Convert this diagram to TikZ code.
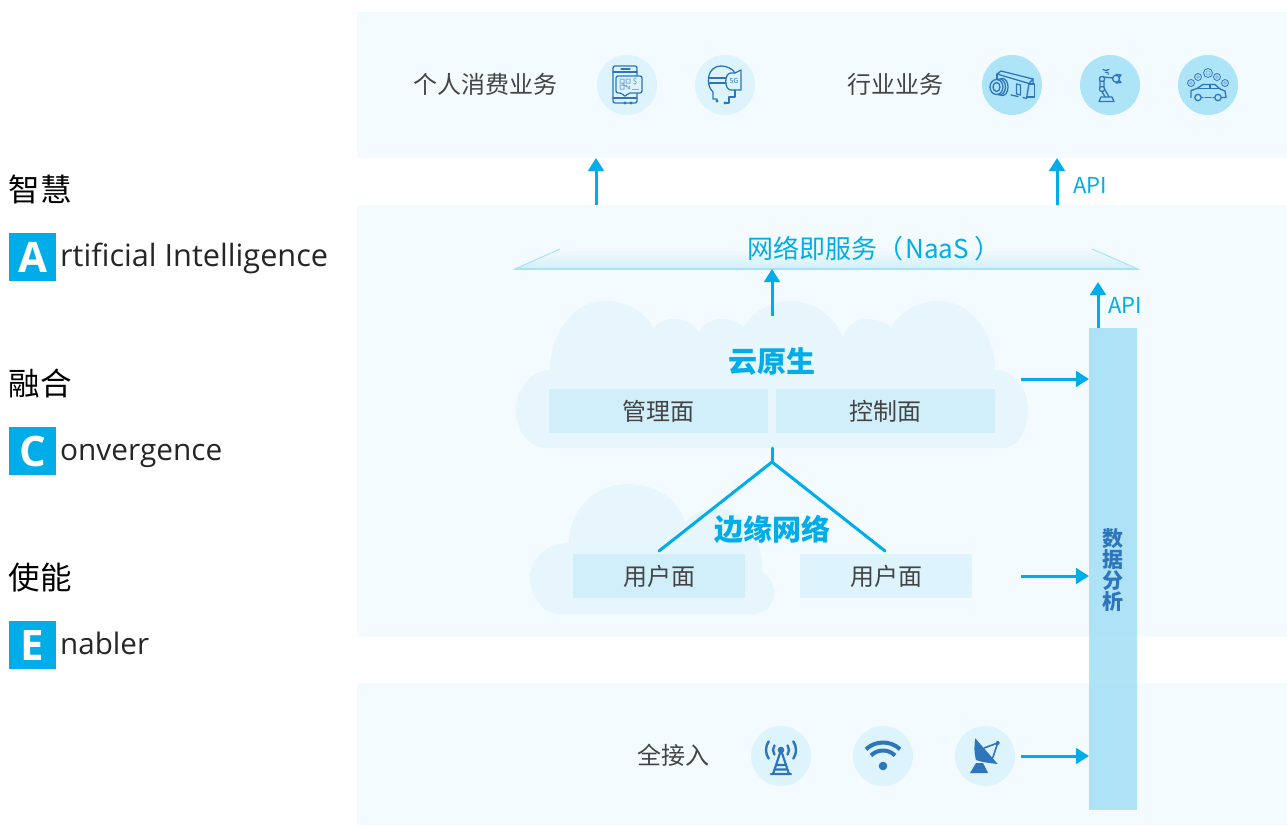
\documentclass[tikz,border=0pt]{standalone}
\usepackage{fontspec}
\setmainfont{Noto Sans CJK SC}
\newfontfamily\latinf{Open Sans}
\usetikzlibrary{arrows.meta,shadings}
\definecolor{panelc}{HTML}{F3FBFE}
\definecolor{cloudc}{HTML}{E6F6FC}
\definecolor{boxa}{HTML}{D1EFFA}
\definecolor{boxb}{HTML}{DDF4FC}
\definecolor{barc}{HTML}{A9E2F7}
\definecolor{linec}{HTML}{00ADE9}
\definecolor{iconc}{HTML}{2F75BB}
\definecolor{circa}{HTML}{DDF4FD}
\definecolor{circb}{HTML}{AEE4F8}
\definecolor{textc}{HTML}{444444}
\newcommand{\fs}[1]{\fontsize{#1}{#1}\selectfont}
\tikzset{
  x=1pt,y=-1pt,
  panel/.style={fill=panelc,draw=none,inner sep=0,outer sep=0,anchor=north west},
  planebox/.style={fill=#1,draw=none,inner sep=0,outer sep=0,minimum height=44,text=textc,font=\fs{24}},
  flow/.style={draw=linec,line width=3,-{Triangle[length=13,width=15.5]}},
  fork/.style={draw=linec,line width=3,line cap=round},
  apilabel/.style={text=linec,font=\fs{22},inner sep=0},
  head/.style={text=linec,font=\fs{29}\bfseries,inner sep=0},
  title/.style={text=textc,font=\fs{24},inner sep=0},
  big/.style={text=black,font=\fs{31.5},inner sep=0},
  word/.style={text=black!85,inner sep=0,anchor=base west},
  letterbox/.style={fill=linec,text=white,font=\latinf\fs{42}\bfseries,minimum width=47,minimum height=48,inner sep=0,outer sep=0,anchor=north west},
  iconcirc/.style={circle,fill=#1,draw=none,minimum size=60,inner sep=0},
  ic/.style={draw=iconc,line width=1.3,line cap=round,line join=round},
  icl/.style={draw=iconc!60,line width=0.8},
}
\begin{document}
\begin{tikzpicture}
\useasboundingbox (0,0) rectangle (1287,825);
\fill[white] (0,0) rectangle (1287,825);
% panels
\node[panel,minimum width=930,minimum height=146] (ptop) at (357,12) {};
\node[panel,minimum width=930,minimum height=432] (pmid) at (357,205) {};
\node[panel,minimum width=930,minimum height=142] (pbot) at (357,683) {};
% clouds
\fill[cloudc] (548,448)
  .. controls (528,448) and (516,430) .. (516,410)
  .. controls (516,388) and (532,370) .. (550,370)
  .. controls (550,335) and (572,301) .. (605,301)
  .. controls (628,301) and (645,313) .. (654,328)
  .. controls (660,321) and (667,319) .. (675,319)
  .. controls (686,319) and (695,325) .. (699,333)
  .. controls (703,324) and (712,319) .. (722,319)
  .. controls (731,319) and (739,322) .. (744,327)
  .. controls (753,312) and (770,301) .. (790,301)
  .. controls (815,301) and (835,317) .. (843,338)
  .. controls (847,326) and (855,319) .. (866,319)
  .. controls (875,319) and (885,322) .. (891,327)
  .. controls (900,312) and (918,301) .. (938,301)
  .. controls (972,301) and (995,335) .. (995,370)
  .. controls (1014,370) and (1028,388) .. (1028,410)
  .. controls (1028,430) and (1018,448) .. (1002,448) -- cycle;
\fill[cloudc] (560,614)
  .. controls (542,614) and (530,595) .. (530,578)
  .. controls (530,558) and (548,543) .. (569,543)
  .. controls (569,510) and (595,484) .. (628,484)
  .. controls (655,484) and (680,500) .. (685,523)
  .. controls (692,513) and (705,508) .. (718,508)
  .. controls (745,508) and (764,540) .. (762,572)
  .. controls (770,576) and (774,585) .. (774,593)
  .. controls (774,605) and (765,614) .. (752,614) -- cycle;
% NaaS plate
\shade[top color=panelc,bottom color=boxa] (515,269) -- (560,249) -- (1092,249) -- (1138,269) -- cycle;
\draw[barc,line width=1] (560,249) -- (515,269) -- (1138,269) -- (1092,249);
\draw[barc,line width=2] (515,269) -- (1138,269);
\coordinate (plate) at (772,269);
\node[text=linec,font=\fs{26},inner sep=0] (naas) at (874,249) {网络即服务（\hspace{2pt}NaaS\hspace{6pt}）};
% data bar
\node[panel,fill=barc,fill opacity=.92,minimum width=48,minimum height=482] (bar) at (1089,328) {};
\node[text=iconc,font=\fs{21}\bfseries,inner sep=0,align=center] (da) at (1112.5,570) {数\\[0pt]据\\[0pt]分\\[0pt]析};
% top row
\node[title] (t1) at (485,84) {个人消费业务};
\node[title] (t2) at (895,84) {行业业务};
\node[iconcirc=circa] (c1) at (627,85) {};
\node[iconcirc=circa] (c2) at (725,85) {};
\node[iconcirc=circb] (c3) at (1012,85) {};
\node[iconcirc=circb] (c4) at (1110,85) {};
\node[iconcirc=circb] (c5) at (1208,85) {};
% bottom row
\node[title] (t3) at (673,755) {全接入};
\node[iconcirc=circa] (c6) at (781,756) {};
\node[iconcirc=circa] (c7) at (883,756) {};
\node[iconcirc=circa] (c8) at (985,756) {};
% icon: phone
\begin{scope}[shift={(c1.center)}]
  \draw[ic,rounded corners=2] (-14,-19) rectangle (10,18);
  \draw[ic] (-14,-13) -- (10,-13) (-6,-16) -- (3,-16) (-14,13) -- (10,13);
  \fill[iconc] (-2,18) circle (1.6) (4,18) circle (1.6);
  \draw[ic,fill=circa,rounded corners=2] (-11,-9) -- (15,-9) -- (15,8) -- (1,8) -- (-2,12) -- (-5,8) -- (-11,8) -- cycle;
  \draw[icl,line width=1] (-7,-6) rectangle (-3,-2) (-1,-6) rectangle (3,-2) (-7,0) rectangle (-3,4) (-1,0) -- (3,4) (-5,-2) -- (0,2) (1,4) -- (3,1);
  \node[text=iconc!80,font=\fs{8},inner sep=0] (dollar) at (8,-3) {\$};
  \draw[icl] (5,4) -- (12,4);
\end{scope}
% icon: 5G head
\begin{scope}[shift={(c2.center)}]
  \draw[ic] (-8,16) -- (-8,14) -- (-12,14) -- (-12,7) .. controls (-20,0) and (-18,-19) .. (-4,-19) .. controls (2,-19) and (8,-16) .. (10,-12);
  \draw[ic] (-16,-7) -- (1,-7) (-16,-2) -- (1,-2);
  \draw[ic] (10,-12) -- (16,-15) -- (16,5) -- (6,5) .. controls (-1,5) and (-1,-12) .. (6,-12) -- (10,-12);
  \draw[ic] (10,5) -- (10,12) -- (4,12) -- (4,18) -- (0,18);
  \fill[iconc] (-8,16) circle (1.6) (0,18) circle (1.6);
  \node[text=iconc,font=\fs{7},inner sep=0] (fiveg) at (9,-4) {5G};
\end{scope}
% icon: camera
\begin{scope}[shift={(c3.center)}]
  \draw[ic] (-15,-11) -- (-11,-14) -- (21,-6) -- (17,-1.5) -- (-15,-11);
  \draw[ic] (21,-6) -- (21,-1) (17,-1.5) -- (14.5,13.5) -- (11,12.5) (6,11.5) -- (-1,10);
  \draw[ic] (4.5,-1) -- (8.5,0) -- (8.5,10) -- (4.5,9) -- cycle;
  \draw[ic] (17.5,-1) -- (22.5,-1) -- (22.5,12) -- (15.5,12);
  \draw[ic] (-15,-11) -- (-15,-6);
  \draw[ic,fill=circb] (-9.5,2) ellipse (5.5 and 8.5);
  \draw[ic,fill=circb] (-12.5,2) ellipse (6 and 8);
  \draw[ic,fill=circb] (-15.5,2) ellipse (6.5 and 7.5);
  \draw[ic] (-15.5,2) ellipse (3.5 and 4.5);
\end{scope}
% icon: robot arm
\begin{scope}[shift={(c4.center)}]
  \draw[ic] (-7,-15.5) arc (130:50:4.5) (-4.5,-12.5) arc (120:60:2.5);
  \fill[iconc] (-1.8,-11) circle (.9);
  \draw[ic] (-10,-7) -- (-10,3) -- (-5,12) (-6,-7) -- (-6,3) -- (-1,12);
  \draw[ic] (-7,-8) -- (3,-7);
  \draw[ic] (-9,12) -- (2,12) -- (4,16.5) -- (-11,16.5) -- cycle;
  \draw[ic,fill=circb] (-8,-6) circle (2.6);
  \draw[ic,fill=circb] (-8,4) circle (2.6);
  \draw[ic] (6,-6.3) circle (3.5);
  \draw[ic] (6,-10.5) -- (11,-10) -- (9,-7.5) (6,-2) -- (11,-2.5) -- (9,-5);
\end{scope}
% icon: car
\begin{scope}[shift={(c5.center)}]
  \draw[ic] (-17,12.5) -- (-17,5.5) -- (-11,3.5) -- (-5,-.5) -- (7,-.5) -- (12,4) -- (17,6) -- (18,12.5) -- (14,12.5) (6,12.5) -- (5,12.5) (-5,12.5) -- (-6,12.5);
  \draw[ic] (-10,3.5) -- (12,3.5) (2,-.5) -- (2,3.5) (-3,12.5) -- (3,12.5);
  \draw[ic,fill=circb] (-10,12.5) circle (3.2);
  \draw[ic,fill=circb] (10,12.5) circle (3.2);
  \foreach \px/\py/\rr in {-17/-2/3.5,-10/-8/3.5,0/-12/4.5,9/-8/3.5,17/-2/3.5}
    \draw[draw=iconc,line width=.8] (\px,\py) circle (\rr);
  \foreach \px/\py/\rr in {-17/-2/1.4,-10/-8/1.4,0/-12/2,9/-8/1.4,17/-2/1.4}
    \draw[draw=iconc!60,line width=.7] (\px,\py) circle (\rr);
\end{scope}
% icon: tower
\begin{scope}[shift={(c6.center)}]
  \fill[iconc] (0,-6) circle (3.3);
  \draw[ic,line width=2.2] (0,-6) -- (-8,18) (0,-6) -- (8,18) (-10,18) -- (10,18) (-3.5,9) -- (3.5,9) (-5,13.5) -- (5,13.5);
  \foreach \rr in {8,15}{
    \draw[ic,line width=2.4] (0,-6) ++(-145:\rr) arc (-145:-215:\rr);
    \draw[ic,line width=2.4] (0,-6) ++(-35:\rr) arc (-35:35:\rr);
  }
\end{scope}
% icon: wifi
\begin{scope}[shift={(c7.center)}]
  \fill[iconc] (0,10) circle (4.3);
  \draw[draw=iconc,line width=4] (0,11.5) ++(-133:25) arc (-133:-47:25);
  \draw[draw=iconc,line width=4] (0,11.5) ++(-135:17) arc (-135:-45:17);
\end{scope}
% icon: dish
\begin{scope}[shift={(c8.center)}]
  \fill[iconc] (-9.7,-17.7) -- (12.7,8) .. controls (4,7) and (-4,6) .. (-9,4) .. controls (-11,-3) and (-11,-10) .. (-9.7,-17.7) -- cycle;
  \fill[iconc] (-15,17) -- (3,17) -- (-2,7) -- (-9,7) -- cycle;
  \draw[draw=iconc,line width=1.6] (-1,-8) -- (12.7,-13) -- (7.7,2);
  \fill[iconc] (12.7,-13) circle (2);
\end{scope}
% cloud labels and plane boxes
\node[head] (yun) at (772,362) {云原生};
\node[head] (edge) at (772,529) {边缘网络};
\node[planebox=boxa,minimum width=219] (mgmt) at (658.5,411) {管理面};
\node[planebox=boxa,minimum width=219] (ctrl) at (885.5,411) {控制面};
\node[planebox=boxa,minimum width=172] (up1) at (659,576) {用户面};
\node[planebox=boxb,minimum width=172] (up2) at (886,576) {用户面};
% connectors
\coordinate (a1s) at (596,205); \coordinate (a1e) at (596,158);
\coordinate (a2s) at (1057,205); \coordinate (a2e) at (1057,158);
\coordinate (a3s) at (772,316);
\coordinate (a4s) at (1098,328); \coordinate (a4e) at (1098,282);
\coordinate (h1) at (1021,379); \coordinate (h2) at (1021,576); \coordinate (h3) at (1021,756);
\coordinate (j0) at (772,448); \coordinate (j1) at (772,462);
\coordinate (f1) at (659,551); \coordinate (f2) at (885,551);
\draw[flow] (a1s) -- (a1e);
\draw[flow] (a2s) -- (a2e);
\draw[flow] (a3s) -- (plate);
\draw[flow] (a4s) -- (a4e);
\draw[flow] (h1) -- (h1 -| bar.west);
\draw[flow] (h2) -- (h2 -| bar.west);
\draw[flow] (h3) -- (h3 -| bar.west);
\draw[fork] (j0) -- (j1);
\draw[fork] (f1) -- (j1) -- (f2);
\node[apilabel,anchor=west] (api1) at (1073,185) {API};
\node[apilabel,anchor=west] (api2) at (1108,305) {API};
% left legend
\node[big] (l1) at (40.5,189.5) {智慧};
\node[letterbox] (la) at (9,233) {A};
\node[word,font=\latinf\fs{30.7}] (wa) at (60,266.5) {rtificial Intelligence};
\node[big] (l2) at (40.5,383.5) {融合};
\node[letterbox] (lc) at (9,427) {C};
\node[word,font=\latinf\fs{29.8}] (wc) at (60,460.5) {onvergence};
\node[big] (l3) at (40.5,577.5) {使能};
\node[letterbox] (le) at (9,621) {E};
\node[word,font=\latinf\fs{29.6}] (we) at (60,654.5) {nabler};
\end{tikzpicture}
\end{document}
